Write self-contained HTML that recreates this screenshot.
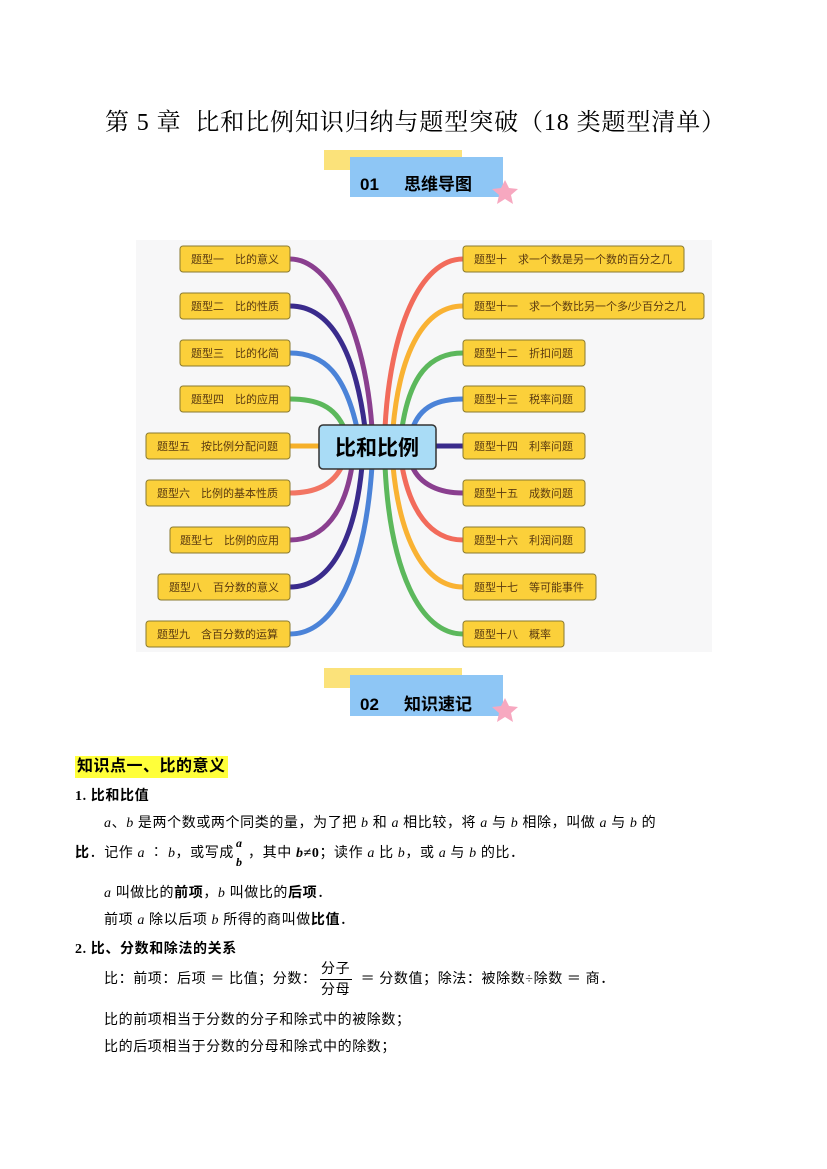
<!DOCTYPE html>
<html><head><meta charset="utf-8"><style>
body{margin:0;background:#fff;}
.pg{position:relative;width:827px;height:1169px;overflow:hidden;font-family:"Liberation Serif","Noto Serif CJK SC","Noto Sans CJK SC",serif;color:#000;}
.abs{position:absolute;white-space:nowrap;}
.t{font-size:14px;line-height:16px;letter-spacing:0.6px;font-family:"Liberation Serif","Noto Sans CJK SC",sans-serif;}
.b{font-weight:bold;}
i{font-style:italic;}
</style></head><body><div class="pg">
<div class="abs" style="left:105px;top:108px;font-size:24px;letter-spacing:0.9px;line-height:30px;font-family:'Liberation Serif','Noto Serif CJK SC',serif;">第 5 章&nbsp; 比和比例知识归纳与题型突破（18 类题型清单）</div>

<svg class="abs" style="left:0;top:0" width="827" height="1169">
<rect x="324" y="150" width="138" height="20" fill="#fbe27a"/>
<rect x="350" y="157" width="153" height="40" fill="#8ec6f5"/>
<polygon points="505,180 509,188 518,189 511,195 513,204 505,199 497,204 499,195 492,189 501,188" fill="#f7a8c0"/>
<text x="360" y="190" font-size="17" font-weight="bold" font-family="Liberation Sans,Noto Sans CJK SC,sans-serif">01</text>
<text x="404" y="190" font-size="17" font-weight="bold" font-family="Liberation Sans,Noto Sans CJK SC,sans-serif">思维导图</text>
<rect x="324" y="668" width="138" height="20" fill="#fbe27a"/>
<rect x="350" y="675" width="153" height="41" fill="#8ec6f5"/>
<polygon points="505,698 509,706 518,707 511,713 513,722 505,717 497,722 499,713 492,707 501,706" fill="#f7a8c0"/>
<text x="360" y="710" font-size="17" font-weight="bold" font-family="Liberation Sans,Noto Sans CJK SC,sans-serif">02</text>
<text x="404" y="710" font-size="17" font-weight="bold" font-family="Liberation Sans,Noto Sans CJK SC,sans-serif">知识速记</text>

<rect x="136" y="240" width="576" height="412" fill="#f7f7f8"/>
<g fill="none" stroke-width="5" stroke-linecap="round">
<path d="M372,428 C365,330 330,259 290,259" stroke="#8a3f8f"/>
<path d="M365,428 C355,350 330,306 290,306" stroke="#3a2b8c"/>
<path d="M357,428 C345,375 325,353 290,353" stroke="#4b83d8"/>
<path d="M345,430 C335,405 315,399 290,399" stroke="#5cb85c"/>
<path d="M320,446 L290,446" stroke="#f6b02a"/>
<path d="M342,466 C333,485 315,493 290,493" stroke="#f27563"/>
<path d="M352,466 C345,510 325,540 290,540" stroke="#8a3f8f"/>
<path d="M362,466 C355,540 330,587 290,587" stroke="#3a2b8c"/>
<path d="M372,466 C365,570 335,634 290,634" stroke="#4b83d8"/>
<path d="M385,428 C390,330 420,259 463,259" stroke="#f26b5b"/>
<path d="M393,428 C400,350 425,306 463,306" stroke="#f9b233"/>
<path d="M402,428 C410,375 430,353 463,353" stroke="#5cb85c"/>
<path d="M412,430 C420,405 440,399 463,399" stroke="#4b83d8"/>
<path d="M436,446 L463,446" stroke="#3a2b8c"/>
<path d="M412,466 C420,485 440,493 463,493" stroke="#8a3f8f"/>
<path d="M402,466 C410,510 430,540 463,540" stroke="#f26b5b"/>
<path d="M393,466 C400,540 425,587 463,587" stroke="#f9b233"/>
<path d="M385,466 C390,570 420,634 463,634" stroke="#5cb85c"/>
</g>
<rect x="319" y="425" width="117" height="44" rx="4" fill="#a9dcf6" stroke="#333" stroke-width="1.5"/>
<text x="377" y="455" font-size="21" font-weight="bold" text-anchor="middle" font-family="Liberation Sans,Noto Sans CJK SC,sans-serif">比和比例</text>
<g fill="#fbd03a" stroke="#8a7a30" stroke-width="1">
<rect x="180" y="246" width="110" height="26" rx="3"/><rect x="180" y="293" width="110" height="26" rx="3"/><rect x="180" y="340" width="110" height="26" rx="3"/><rect x="180" y="386" width="110" height="26" rx="3"/><rect x="146" y="433" width="144" height="26" rx="3"/><rect x="146" y="480" width="144" height="26" rx="3"/><rect x="170" y="527" width="120" height="26" rx="3"/><rect x="158" y="574" width="132" height="26" rx="3"/><rect x="146" y="621" width="144" height="26" rx="3"/>
<rect x="463" y="246" width="221" height="26" rx="3"/><rect x="463" y="293" width="241" height="26" rx="3"/><rect x="463" y="340" width="122" height="26" rx="3"/><rect x="463" y="386" width="122" height="26" rx="3"/><rect x="463" y="433" width="122" height="26" rx="3"/><rect x="463" y="480" width="122" height="26" rx="3"/><rect x="463" y="527" width="122" height="26" rx="3"/><rect x="463" y="574" width="133" height="26" rx="3"/><rect x="463" y="621" width="101" height="26" rx="3"/>
</g>
<g font-size="11" fill="#5a3a10" font-family="Liberation Sans,Noto Sans CJK SC,sans-serif" xml:space="preserve">
<text x="191" y="263">题型一　比的意义</text><text x="191" y="310">题型二　比的性质</text><text x="191" y="357">题型三　比的化简</text><text x="191" y="403">题型四　比的应用</text><text x="157" y="450">题型五　按比例分配问题</text><text x="157" y="497">题型六　比例的基本性质</text><text x="180" y="544">题型七　比例的应用</text><text x="169" y="591">题型八　百分数的意义</text><text x="157" y="638">题型九　含百分数的运算</text>
<text x="474" y="263">题型十　求一个数是另一个数的百分之几</text><text x="474" y="310">题型十一　求一个数比另一个多/少百分之几</text><text x="474" y="357">题型十二　折扣问题</text><text x="474" y="403">题型十三　税率问题</text><text x="474" y="450">题型十四　利率问题</text><text x="474" y="497">题型十五　成数问题</text><text x="474" y="544">题型十六　利润问题</text><text x="474" y="591">题型十七　等可能事件</text><text x="474" y="638">题型十八　概率</text>
</g>
</svg>

<div class="abs b" style="left:75px;top:756px;height:22px;line-height:22px;padding:0 2px;background:#ffff3a;font-size:16px;letter-spacing:0.5px;font-family:'Liberation Sans','Noto Sans CJK SC',sans-serif;">知识点一、比的意义</div>
<div class="abs t b" style="left:75px;top:789px;">1. 比和比值</div>
<div class="abs t" style="left:104px;top:816px;"><i>a</i>、<i>b</i> 是两个数或两个同类的量，为了把 <i>b</i> 和 <i>a</i> 相比较，将 <i>a</i> 与 <i>b</i> 相除，叫做 <i>a</i> 与 <i>b</i> 的</div>
<div class="abs t" style="left:75px;top:846px;"><b>比</b>．记作 <i>a</i> ∶ <i>b</i>，或写成 <span style="display:inline-block;width:10px;"></span>，其中 <b><i>b</i>≠0</b>；读作 <i>a</i> 比 <i>b</i>，或 <i>a</i> 与 <i>b</i> 的比．</div>
<div class="abs t b" style="left:236px;top:837px;font-size:12px;line-height:12px;"><i>a</i></div>
<div class="abs t b" style="left:236px;top:856px;font-size:12px;line-height:12px;"><i>b</i></div>
<div class="abs t" style="left:104px;top:886px;"><i>a</i> 叫做比的<b>前项</b>，<i>b</i> 叫做比的<b>后项</b>．</div>
<div class="abs t" style="left:104px;top:913px;">前项 <i>a</i> 除以后项 <i>b</i> 所得的商叫做<b>比值</b>．</div>
<div class="abs t b" style="left:75px;top:942px;">2. 比、分数和除法的关系</div>
<div class="abs t" style="left:104px;top:972px;">比：前项：后项 ＝ 比值；分数：<span style="display:inline-block;width:44px;"></span>＝ 分数值；除法：被除数÷除数 ＝ 商．</div>
<div class="abs t" style="left:321px;top:962px;">分子</div>
<div class="abs" style="left:320px;top:979px;width:32px;border-top:1px solid #000;"></div>
<div class="abs t" style="left:321px;top:983px;">分母</div>
<div class="abs t" style="left:104px;top:1013px;">比的前项相当于分数的分子和除式中的被除数；</div>
<div class="abs t" style="left:104px;top:1040px;">比的后项相当于分数的分母和除式中的除数；</div>
</div></body></html>
